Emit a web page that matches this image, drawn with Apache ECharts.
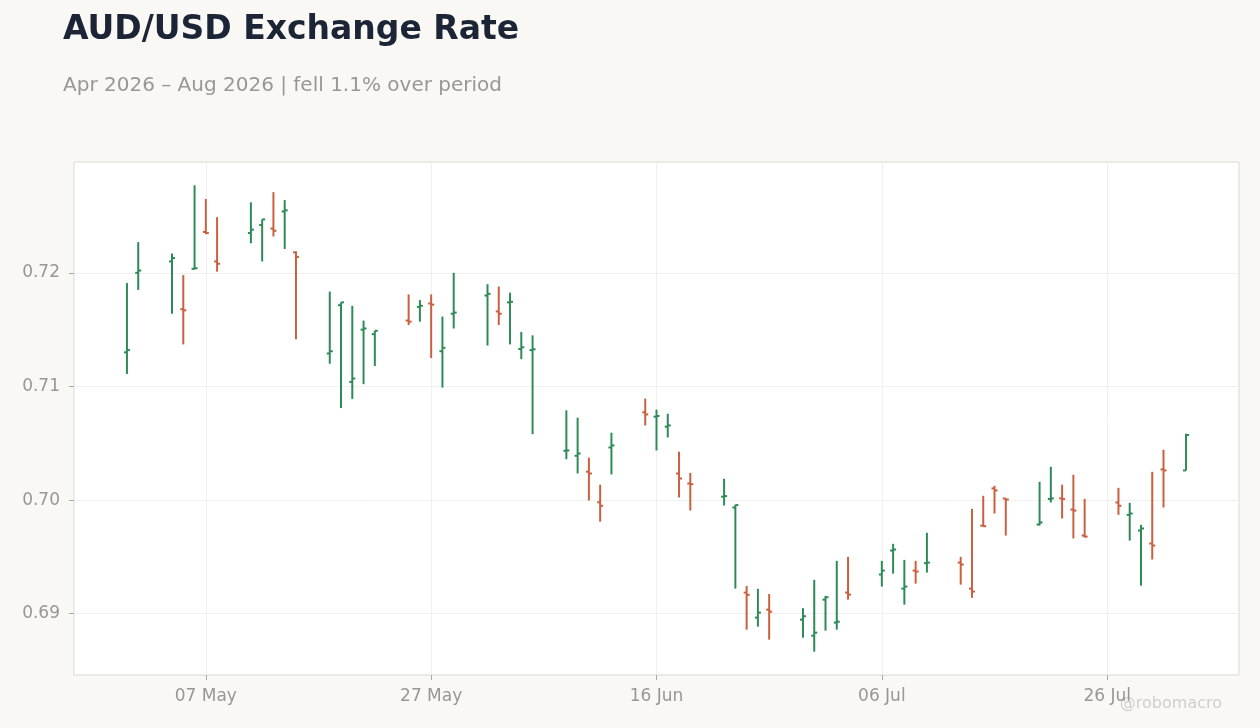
<!DOCTYPE html>
<html>
<head>
<meta charset="utf-8">
<script src="https://cdn.jsdelivr.net/npm/echarts@6/dist/echarts.min.js"></script>
<style>
  html, body { margin: 0; padding: 0; background: #f9f8f5; }
  #chart { width: 1260px; height: 728px; }
</style>
</head>
<body>
<div id="chart"></div>
<script>
const dates = [
  "2026-04-30", "2026-05-01", "2026-05-04", "2026-05-05", "2026-05-06", "2026-05-07", "2026-05-08",
  "2026-05-11", "2026-05-12", "2026-05-13", "2026-05-14", "2026-05-15",
  "2026-05-18", "2026-05-19", "2026-05-20", "2026-05-21", "2026-05-22",
  "2026-05-25", "2026-05-26", "2026-05-27", "2026-05-28", "2026-05-29",
  "2026-06-01", "2026-06-02", "2026-06-03", "2026-06-04", "2026-06-05",
  "2026-06-08", "2026-06-09", "2026-06-10", "2026-06-11", "2026-06-12",
  "2026-06-15", "2026-06-16", "2026-06-17", "2026-06-18", "2026-06-19",
  "2026-06-22", "2026-06-23", "2026-06-24", "2026-06-25", "2026-06-26",
  "2026-06-29", "2026-06-30", "2026-07-01", "2026-07-02", "2026-07-03",
  "2026-07-06", "2026-07-07", "2026-07-08", "2026-07-09", "2026-07-10",
  "2026-07-13", "2026-07-14", "2026-07-15", "2026-07-16", "2026-07-17",
  "2026-07-20", "2026-07-21", "2026-07-22", "2026-07-23", "2026-07-24",
  "2026-07-27", "2026-07-28", "2026-07-29", "2026-07-30", "2026-07-31",
  "2026-08-02"
];
const opens = [
  0.7130, 0.7200, 0.7210, 0.7168, 0.72035, 0.7236, 0.7210,
  0.7235, 0.7242, 0.7239, 0.7254, 0.7218,
  0.7129, 0.71715, 0.7104, 0.7150, 0.7146,
  0.7158, 0.7170, 0.7173, 0.7131, 0.7164,
  0.7180, 0.7166, 0.7174, 0.7133, 0.7132,
  0.70434, 0.7039, 0.7025, 0.6998, 0.70463,
  0.70772, 0.70734, 0.70646, 0.70234, 0.70146,
  0.7003, 0.69935, 0.69186, 0.68966, 0.69036,
  0.68948, 0.68807, 0.69124, 0.68922, 0.69186,
  0.69345, 0.69556, 0.69221, 0.6938, 0.69445,
  0.6945, 0.69221, 0.69775, 0.70103, 0.70014,
  0.69785, 0.7001, 0.70015, 0.69917, 0.69688,
  0.69979, 0.6987, 0.69732, 0.69618, 0.7027,
  0.70261
];
const highs = [
  0.7191, 0.7227, 0.7217, 0.7198, 0.7277, 0.7265, 0.7249,
  0.7262, 0.7247, 0.7271, 0.7264, 0.7219,
  0.71835, 0.7174, 0.7171, 0.7158, 0.7149,
  0.7181, 0.7176, 0.7181, 0.71615, 0.7200,
  0.7190, 0.7188, 0.71825, 0.7148, 0.7145,
  0.7079, 0.70725, 0.70373, 0.70135, 0.70593,
  0.70893, 0.70796, 0.7076, 0.70426, 0.7024,
  0.70188, 0.69959, 0.69245, 0.69219, 0.69174,
  0.69049, 0.69298, 0.69157, 0.69465, 0.6950,
  0.69465, 0.69615, 0.69474, 0.69465, 0.69712,
  0.6950, 0.69923, 0.70038, 0.70126, 0.70016,
  0.70161, 0.70293, 0.70135, 0.70223, 0.70011,
  0.70108, 0.69976, 0.69782, 0.70249, 0.70443,
  0.70584
];
const lows = [
  0.7111, 0.7185, 0.7164, 0.7137, 0.7203, 0.7234, 0.7201,
  0.7226, 0.7210, 0.7232, 0.7221, 0.71415,
  0.7120, 0.7081, 0.7089, 0.7102, 0.7118,
  0.7154, 0.7157, 0.7125, 0.7099, 0.7151,
  0.7136, 0.7154, 0.7137, 0.7124, 0.7058,
  0.7036, 0.70234, 0.69996, 0.6981, 0.70226,
  0.70657, 0.70437, 0.70551, 0.70023, 0.69908,
  0.69952, 0.69221, 0.6886, 0.68886, 0.68772,
  0.68789, 0.68666, 0.68851, 0.6886, 0.69124,
  0.69239, 0.69353, 0.6908, 0.69265, 0.69362,
  0.69256, 0.6914, 0.69767, 0.69882, 0.69688,
  0.69776, 0.69979, 0.69838, 0.69662, 0.6967,
  0.6987, 0.69644, 0.69247, 0.69477, 0.69935,
  0.70261
];
const closes = [
  0.7132, 0.7202, 0.7213, 0.7167, 0.7204, 0.7235, 0.7208,
  0.7238, 0.7247, 0.7237, 0.7255, 0.7214,
  0.7131, 0.7174, 0.7107, 0.7151, 0.7149,
  0.7157, 0.7171, 0.7172, 0.7134, 0.7165,
  0.71815, 0.7164, 0.71745, 0.71345, 0.71327,
  0.70437, 0.7041, 0.70234, 0.6995, 0.70481,
  0.70754, 0.7074, 0.70657, 0.7019, 0.7014,
  0.70035, 0.69956, 0.69166, 0.6901, 0.69018,
  0.68978, 0.68833, 0.69145, 0.6893, 0.69168,
  0.6938, 0.69565, 0.69239, 0.69371, 0.6945,
  0.69433, 0.69195, 0.6977, 0.70085, 0.70005,
  0.69803, 0.70015, 0.7001, 0.69908, 0.69679,
  0.6995, 0.69882, 0.6975, 0.6960, 0.70261,
  0.70573
];
const xTickDates = ["2026-05-07", "2026-05-27", "2026-06-16", "2026-07-06", "2026-07-26"];
const yTicks = [0.69, 0.70, 0.71, 0.72];

const UP = "#2e8b57";
const DOWN = "#c9603f";
const MONTHS = ["Jan", "Feb", "Mar", "Apr", "May", "Jun", "Jul", "Aug", "Sep", "Oct", "Nov", "Dec"];

const toTs = (s) => {
  const [y, m, d] = s.split("-").map(Number);
  return Date.UTC(y, m - 1, d);
};

const xs = dates.map(toTs);
const xTicks = xTickDates.map(toTs);
const seriesData = xs.map((x, i) => [x, opens[i], highs[i], lows[i], closes[i]]);

// 5% padding on both axes
const xSpan = xs[xs.length - 1] - xs[0];
const xMin = xs[0] - xSpan * 0.05;
const xMax = xs[xs.length - 1] + xSpan * 0.05;
const yLo = Math.min(...lows), yHi = Math.max(...highs);
const yMin = yLo - (yHi - yLo) * 0.05;
const yMax = yHi + (yHi - yLo) * 0.05;

function renderItem(params, api) {
  const x = api.value(0);
  const o = api.value(1), h = api.value(2), l = api.value(3), c = api.value(4);
  const top = api.coord([x, h]);
  const bot = api.coord([x, l]);
  const po = api.coord([x, o]);
  const pc = api.coord([x, c]);
  const style = { stroke: c >= o ? UP : DOWN, lineWidth: 2 };
  return {
    type: "group",
    children: [
      { type: "line", shape: { x1: top[0], y1: top[1], x2: bot[0], y2: bot[1] }, style },
      { type: "line", shape: { x1: po[0] - 3, y1: po[1], x2: po[0], y2: po[1] }, style },
      { type: "line", shape: { x1: pc[0], y1: pc[1], x2: pc[0] + 3, y2: pc[1] }, style },
    ],
  };
}

const chart = echarts.init(document.getElementById("chart"));
const font = "DejaVu Sans";
const option = {
  backgroundColor: "#f9f8f5",
  animation: false,
  title: [
    {
      text: "AUD/USD Exchange Rate",
      left: 58,
      top: 9,
      textStyle: { fontFamily: font, fontSize: 33, fontWeight: "bold", color: "#1c2535" },
    },
    {
      text: "Apr 2026 – Aug 2026 | fell 1.1% over period",
      left: 58,
      top: 71,
      textStyle: { fontFamily: font, fontSize: 20, fontWeight: "normal", color: "#9a9691" },
    },
  ],
  graphic: [
    {
      type: "text",
      right: 38,
      top: 696,
      style: { text: "@robomacro", fontFamily: font, fontSize: 16, fill: "#d2cec9" },
    },
  ],
  grid: {
    left: 74,
    right: 21,
    top: 162,
    bottom: 53,
    show: true,
    backgroundColor: "#ffffff",
    borderColor: "#dcd8d0",
    borderWidth: 1,
  },
  xAxis: {
    type: "value",
    min: xMin,
    max: xMax,
    axisLine: { show: false },
    axisTick: { show: true, length: 5, customValues: xTicks, lineStyle: { color: "#aaa6a0" } },
    axisLabel: {
      customValues: xTicks,
      margin: 13,
      fontFamily: font,
      fontSize: 17,
      color: "#9a9691",
      formatter: (v) => {
        const d = new Date(v);
        return String(d.getUTCDate()).padStart(2, "0") + " " + MONTHS[d.getUTCMonth()];
      },
    },
    splitLine: { show: true, lineStyle: { color: "#f0f0f0", width: 1 } },
  },
  yAxis: {
    type: "value",
    min: yMin,
    max: yMax,
    axisLine: { show: false },
    axisTick: { show: true, length: 5, customValues: yTicks, lineStyle: { color: "#aaa6a0" } },
    axisLabel: {
      customValues: yTicks,
      margin: 14,
      fontFamily: font,
      fontSize: 17,
      color: "#9a9691",
      formatter: (v) => v.toFixed(2),
    },
    splitLine: { show: true, lineStyle: { color: "#f0f0f0", width: 1 } },
  },
  series: [
    {
      type: "custom",
      renderItem,
      encode: { x: 0, y: [1, 2, 3, 4] },
      data: seriesData,
    },
  ],
};
chart.setOption(option);
</script>
</body>
</html>
